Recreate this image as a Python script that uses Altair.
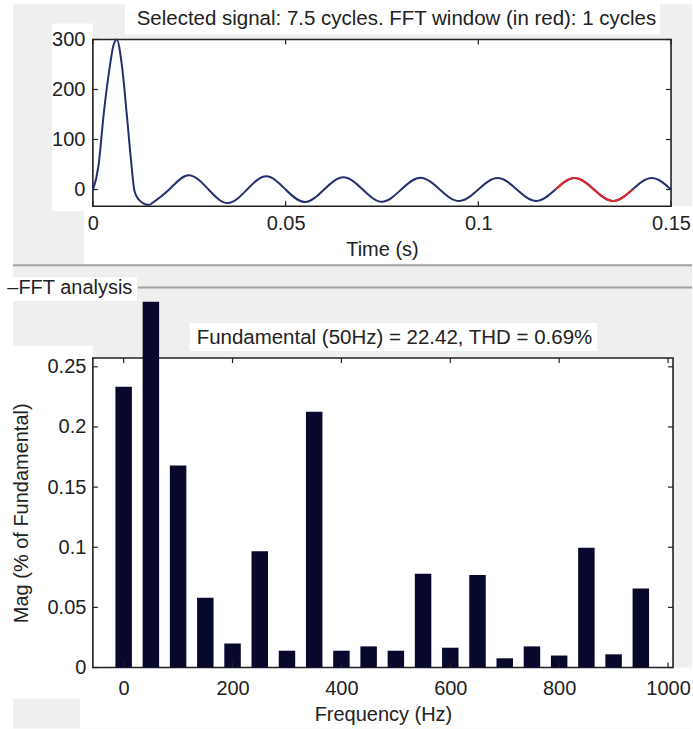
import altair as alt
import pandas as pd

FONT = "Liberation Sans"
TXT = "#222222"
FRAME = "#222222"
GREY = "#efefef"

# ---------------- top panel: selected signal ----------------
# initial transient (time s, amplitude)
t_tr = [0.0, 0.0015, 0.0028, 0.0041, 0.0054, 0.0062, 0.0075, 0.0088, 0.0100, 0.0108, 0.0119, 0.0132, 0.0147]
v_tr = [-2, 50, 150, 230, 290, 300, 250, 150, 50, -3, -20, -28, -31]

# steady 50 Hz part (peaks, troughs, zero crossings)
t_ss = [0.0147, 0.0198, 0.0248, 0.0300, 0.0350, 0.0400, 0.0450, 0.0500, 0.0550, 0.0600,
        0.0650, 0.0700, 0.0750, 0.0800, 0.0850, 0.0900, 0.0950, 0.1000, 0.1050, 0.1100,
        0.1150, 0.1200, 0.1250, 0.1300, 0.1350, 0.1400, 0.1450, 0.1500]
v_ss = [-31, 0, 28.5, 0, -27, 0, 26.5, 0, -25, 0,
        24.5, 0, -24.5, 0, 23.5, 0, -23, 0, 23, 0,
        -23, 0, 23, 0, -23, 0, 23, 0]

fft_start, fft_end = 0.12, 0.14

time_ticks = [0, 0.05, 0.1, 0.15]
sig_ticks = [0, 100, 200, 300]
time_domain = [0, 0.15]
sig_domain = [-33.4, 300]

top_title = "Selected signal: 7.5 cycles. FFT window (in red): 1 cycles"

# ---------------- bottom panel: FFT ----------------
freqs = [0, 50, 100, 150, 200, 250, 300, 350, 400, 450, 500, 550, 600, 650, 700, 750, 800, 850, 900, 950]
mags = [0.2335, 0.304, 0.168, 0.058, 0.020, 0.0967, 0.014, 0.2126, 0.014, 0.0176,
        0.014, 0.078, 0.0165, 0.077, 0.0077, 0.0176, 0.010, 0.0995, 0.011, 0.0657]
freq_ticks = [0, 200, 400, 600, 800, 1000]
mag_ticks = [0, 0.05, 0.1, 0.15, 0.2, 0.25]
freq_domain = [-47.4, 1000]
mag_domain = [0, 0.2573]

bottom_title = "Fundamental (50Hz) = 22.42, THD = 0.69%"
panel_label = "\u2013FFT analysis"

W1, H1 = 579, 167
W2, H2 = 581, 310
TL = 5  # inner tick length

df_tr = pd.DataFrame({"t": t_tr, "v": v_tr})
df_ss = pd.DataFrame({"t": t_ss, "v": v_ss})
df_red = df_ss[(df_ss.t >= fft_start - 1e-9) & (df_ss.t <= fft_end + 1e-9)]
df_bar = pd.DataFrame({"f": freqs, "m": mags})
one = pd.DataFrame({"k": [0]})


def box(color, x1, x2, y1, y2):
    """decorative GUI panel rectangle (pixel offsets from the plot's corner)"""
    return alt.Chart(one).mark_rect(color=color).encode(
        x=alt.value(x1), x2=alt.value(x2), y=alt.value(y1), y2=alt.value(y2))


def frame(w, h):
    return alt.Chart(one).mark_rect(filled=False, stroke=FRAME, strokeWidth=1.6).encode(
        x=alt.value(0), x2=alt.value(w), y=alt.value(0), y2=alt.value(h))


def inner_ticks(xvals, yvals, xenc, yenc, w, h):
    dx = pd.DataFrame({"x": xvals})
    dy = pd.DataFrame({"y": yvals})
    rule = dict(color=FRAME, strokeWidth=1.2)
    xe = xenc("x:Q")
    ye = yenc("y:Q")
    return [
        alt.Chart(dx).mark_rule(**rule).encode(x=xe, y=alt.value(h), y2=alt.value(h - TL)),
        alt.Chart(dx).mark_rule(**rule).encode(x=xe, y=alt.value(0), y2=alt.value(TL)),
        alt.Chart(dy).mark_rule(**rule).encode(y=ye, x=alt.value(0), x2=alt.value(TL)),
        alt.Chart(dy).mark_rule(**rule).encode(y=ye, x=alt.value(w), x2=alt.value(w - TL)),
    ]


ax_common = dict(ticks=False, domain=False, grid=False, labelFlush=False, zindex=1,
                 labelFont=FONT, labelFontSize=20, labelColor=TXT, titleFont=FONT,
                 titleFontSize=20, titleFontWeight="normal", titleColor=TXT)

# top encodings
tx_axis = alt.Axis(values=time_ticks, labelExpr="datum.value == 0 ? '0' : format(datum.value, '.2~f')",
                   title="Time (s)", labelPadding=7.5, titlePadding=6, **ax_common)
ty_axis = alt.Axis(values=sig_ticks, format="d", title=None, labelPadding=8, **ax_common)
tx_scale = alt.Scale(domain=time_domain, nice=False, zero=False)
ty_scale = alt.Scale(domain=sig_domain, nice=False, zero=False)


def tX(f):
    return alt.X(f, scale=tx_scale, axis=tx_axis)


def tY(f):
    return alt.Y(f, scale=ty_scale, axis=ty_axis)


blue = "#24306e"
red = "#e0262a"

trans = alt.Chart(df_tr).mark_line(color=blue, strokeWidth=2, interpolate="monotone").encode(
    x=tX("t:Q"), y=tY("v:Q"))
steady = alt.Chart(df_ss).mark_line(color=blue, strokeWidth=2, interpolate="natural").encode(
    x=tX("t:Q"), y=tY("v:Q"))
redline = alt.Chart(df_red).mark_line(color=red, strokeWidth=2, interpolate="natural").encode(
    x=tX("t:Q"), y=tY("v:Q"))
top_text = alt.Chart(one).mark_text(text=top_title, align="center", baseline="alphabetic",
                                    font=FONT, fontSize=20.5, color=TXT).encode(
    x=alt.value(304), y=alt.value(-14.3))

top_bg = [
    box(GREY, -80, 600, -35.3, 224.7),
    box("white", -41, 0, -16, 172),
    box("white", -9, 600, 167, 224.7),
    box("white", 32, 568, -35.3, -5),
    box("white", 0, W1, 0, H1),
    frame(W1, H1),
]

top = alt.layer(
    *top_bg, trans, steady, redline, top_text, *inner_ticks(time_ticks, sig_ticks, tX, tY, W1, H1)
).properties(width=W1, height=H1)

# bottom encodings
bx_axis = alt.Axis(values=freq_ticks, format="d", title="Frequency (Hz)", labelPadding=10.5,
                   titlePadding=6.5, **ax_common)
by_axis = alt.Axis(values=mag_ticks, format="~g", title="Mag (% of Fundamental)", labelPadding=7,
                   titlePadding=16, **ax_common)
bx_scale = alt.Scale(domain=freq_domain, nice=False, zero=False)
by_scale = alt.Scale(domain=mag_domain, nice=False, zero=True)


def bX(f):
    return alt.X(f, scale=bx_scale, axis=bx_axis)


def bY(f):
    return alt.Y(f, scale=by_scale, axis=by_axis)


bottom_bg = [
    box(GREY, -80, 600, -93, 371),
    box("white", -80, 0, -12, 341),
    box("white", -13, 600, H2, 371),
    box("white", 0, W2, 0, H2),
    box("white", 97, 505, -35, -7),
    box("white", -86, 44, -81, -57),
    frame(W2, H2),
]
sep_line = alt.Chart(one).mark_rule(color="#a0a0a0", strokeWidth=2).encode(
    x=alt.value(-80), x2=alt.value(600), y=alt.value(-93))
fft_line = alt.Chart(one).mark_rule(color="#a0a0a0", strokeWidth=2).encode(
    x=alt.value(45), x2=alt.value(600), y=alt.value(-70.5))
fft_text = alt.Chart(one).mark_text(text=panel_label, align="left", baseline="alphabetic",
                                    font=FONT, fontSize=20, color=TXT).encode(
    x=alt.value(-85.7), y=alt.value(-64.3))
bottom_text = alt.Chart(one).mark_text(text=bottom_title, align="center", baseline="alphabetic",
                                       font=FONT, fontSize=20.5, color=TXT).encode(
    x=alt.value(302), y=alt.value(-13.7))

bars = alt.Chart(df_bar).mark_bar(color="#08082c", size=16.5).encode(
    x=bX("f:Q"), y=bY("m:Q"))

bottom = alt.layer(
    *bottom_bg, sep_line, fft_line, fft_text, bottom_text,
    bars, *inner_ticks(freq_ticks, mag_ticks, bX, bY, W2, H2)
).properties(width=W2, height=H2)

chart = alt.vconcat(top, bottom, spacing=0).properties(
    padding={"left": 7, "top": 3, "right": 0, "bottom": 0},
    background="white",
).configure_view(stroke=None, fill="white")

chart.save("out.html", embed_options={"renderer": "svg", "actions": False})
